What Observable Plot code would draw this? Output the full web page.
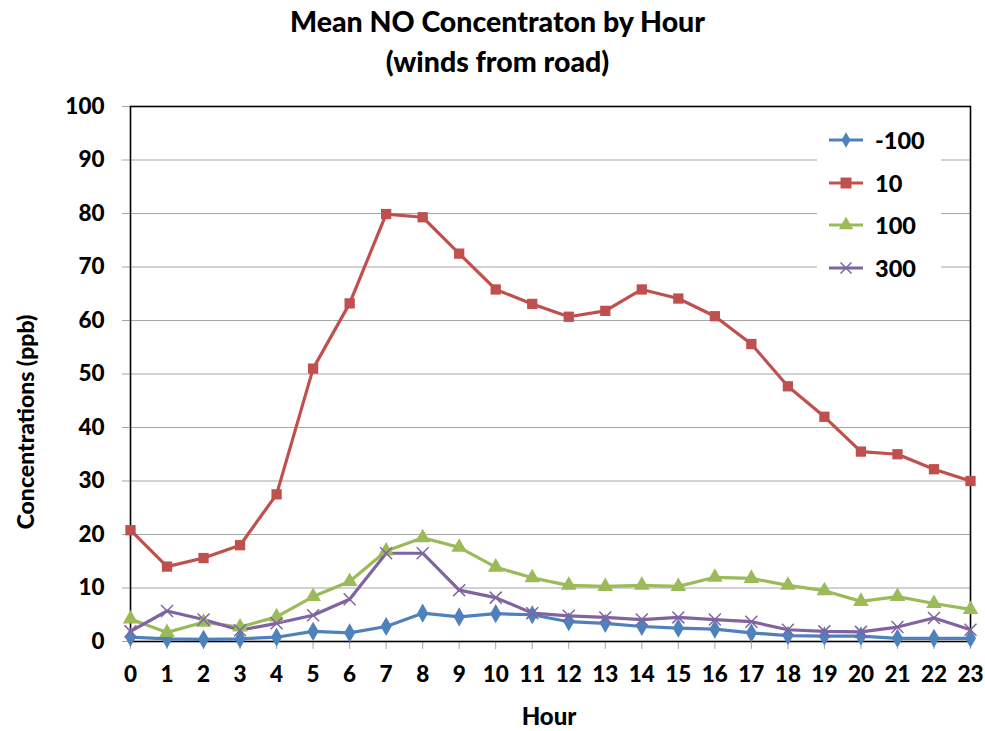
<!DOCTYPE html>
<html>
<head>
<meta charset="utf-8">
<script src="https://cdn.jsdelivr.net/npm/d3@7"></script>
<script src="https://cdn.jsdelivr.net/npm/@observablehq/plot@0.6"></script>
<style>
  body { margin: 0; background: #fff; font-family: Lato, "Open Sans", sans-serif; }
  #wrap { position: relative; width: 985px; height: 731px; }
  #title { height: 90px; text-align: center; font-weight: 900; font-size: 28.5px; line-height: 40px; color: #000; padding-left: 10px; box-sizing: border-box; padding-top: 1px; }
  #ylab { position: absolute; left: 25px; top: 422px; transform: translate(-50%, -50%) rotate(-90deg); font-weight: 900; font-size: 23px; white-space: nowrap; line-height: 1; }
  #xlab { position: absolute; left: 549px; top: 716px; transform: translate(-50%, -50%); font-weight: 900; font-size: 24px; line-height: 1; }
  #legend { position: absolute; left: 817px; top: 118px; width: 124px; height: 172px; background: #fff; }
  .item { position: absolute; left: 11px; height: 30px; display: flex; align-items: center; font-weight: 900; font-size: 23.5px; }
  .item svg { margin-right: 11px; }
</style>
</head>
<body>
<div id="wrap">
  <div id="title">Mean NO Concentraton by Hour<br>(winds from road)</div>
  <div id="chart"></div>
  <div id="ylab">Concentrations (ppb)</div>
  <div id="xlab">Hour</div>
  <div id="legend"></div>
</div>
<script>
const hours = d3.range(0, 24);
const seriesNames = ["-100", "10", "100", "300"];
const seriesColors = ["#4F81BD", "#C0504D", "#9BBB59", "#8064A2"];
const seriesSymbols = ["diamond", "square", "triangle", "times"];
const yTicks = [0, 10, 20, 30, 40, 50, 60, 70, 80, 90, 100];

const valsM100 = [0.8, 0.5, 0.4, 0.5, 0.8, 1.9, 1.6, 2.8, 5.3, 4.6, 5.2, 5.0, 3.7, 3.4, 2.8, 2.5, 2.3, 1.6, 1.1, 1.0, 1.0, 0.6, 0.6, 0.6];
const vals10 = [20.8, 14.0, 15.6, 18.0, 27.5, 51.0, 63.2, 79.9, 79.3, 72.5, 65.8, 63.1, 60.7, 61.8, 65.8, 64.1, 60.8, 55.6, 47.7, 42.0, 35.5, 35.0, 32.2, 30.0];
const vals100 = [4.2, 1.7, 3.6, 2.7, 4.6, 8.4, 11.2, 16.9, 19.4, 17.6, 13.9, 11.9, 10.5, 10.3, 10.5, 10.3, 12.0, 11.8, 10.5, 9.5, 7.5, 8.4, 7.1, 6.0];
const vals300 = [1.9, 5.7, 4.1, 2.1, 3.4, 4.9, 7.9, 16.5, 16.5, 9.6, 8.2, 5.3, 4.8, 4.5, 4.1, 4.5, 4.1, 3.7, 2.2, 1.9, 1.8, 2.7, 4.4, 2.2];

const allVals = [valsM100, vals10, vals100, vals300];
const data = [];
seriesNames.forEach((name, i) => {
  hours.forEach((h, j) => data.push({hour: h, value: allVals[i][j], series: name}));
});

const chart = Plot.plot({
  width: 985,
  height: 641,
  marginTop: 16,
  marginLeft: 130,
  marginRight: 15,
  marginBottom: 90,
  style: {fontFamily: "Lato, 'Open Sans', sans-serif", fontSize: "22px", fontWeight: "900", color: "#000", background: "#fff"},
  x: {domain: [0, 23], ticks: hours, tickFormat: d3.format("d"), tickSize: 8, tickPadding: 17, label: null},
  y: {domain: [0, 100], ticks: yTicks, tickSize: 8, tickPadding: 18, label: null},
  color: {domain: seriesNames, range: seriesColors},
  symbol: {domain: seriesNames, range: seriesSymbols},
  marks: [
    Plot.gridY(yTicks, {stroke: "#a6a6a6", strokeOpacity: 1, strokeWidth: 1.2}),
    Plot.axisY({ticks: yTicks, tickSize: 8, tickPadding: 18, stroke: "#a6a6a6", strokeOpacity: 1, label: null, fontWeight: "900", fontSize: 22.5}),
    Plot.axisX({ticks: hours, tickSize: 8, tickPadding: 17, stroke: "#a6a6a6", strokeOpacity: 1, label: null, tickFormat: d3.format("d"), fontWeight: "900", fontSize: 22.5}),
    Plot.frame({stroke: "#000", strokeWidth: 1.6}),
    Plot.line(data, {x: "hour", y: "value", z: "series", stroke: "series", strokeWidth: 3.2}),
    Plot.dot(data.filter(d => d.series !== "300"), {x: "hour", y: "value", symbol: "series", fill: "series", r: 5.8, stroke: "none"}),
    Plot.dot(data.filter(d => d.series === "300"), {x: "hour", y: "value", symbol: "series", stroke: "series", r: 5.5, strokeWidth: 1.5})
  ]
});
document.getElementById("chart").appendChild(chart);

// Legend overlay
const legend = d3.select("#legend");
const sym = {
  diamond: d3.symbol(d3.symbolDiamond, 70),
  square: d3.symbol(d3.symbolSquare, 120),
  triangle: d3.symbol(d3.symbolTriangle, 90),
  times: d3.symbol(d3.symbolTimes, 80)
};
seriesNames.forEach((name, i) => {
  const item = legend.append("div").attr("class", "item").style("top", (7 + i * 42.5) + "px");
  const svg = item.append("svg").attr("width", 36).attr("height", 20);
  svg.append("line").attr("x1", 1).attr("x2", 35).attr("y1", 10).attr("y2", 10)
    .attr("stroke", seriesColors[i]).attr("stroke-width", 3.2);
  const p = svg.append("path").attr("transform", "translate(18,10)").attr("d", sym[seriesSymbols[i]]());
  if (seriesSymbols[i] === "times") p.attr("fill", "none").attr("stroke", seriesColors[i]).attr("stroke-width", 1.5);
  else p.attr("fill", seriesColors[i]);
  item.append("span").text(name);
});
</script>
</body>
</html>
